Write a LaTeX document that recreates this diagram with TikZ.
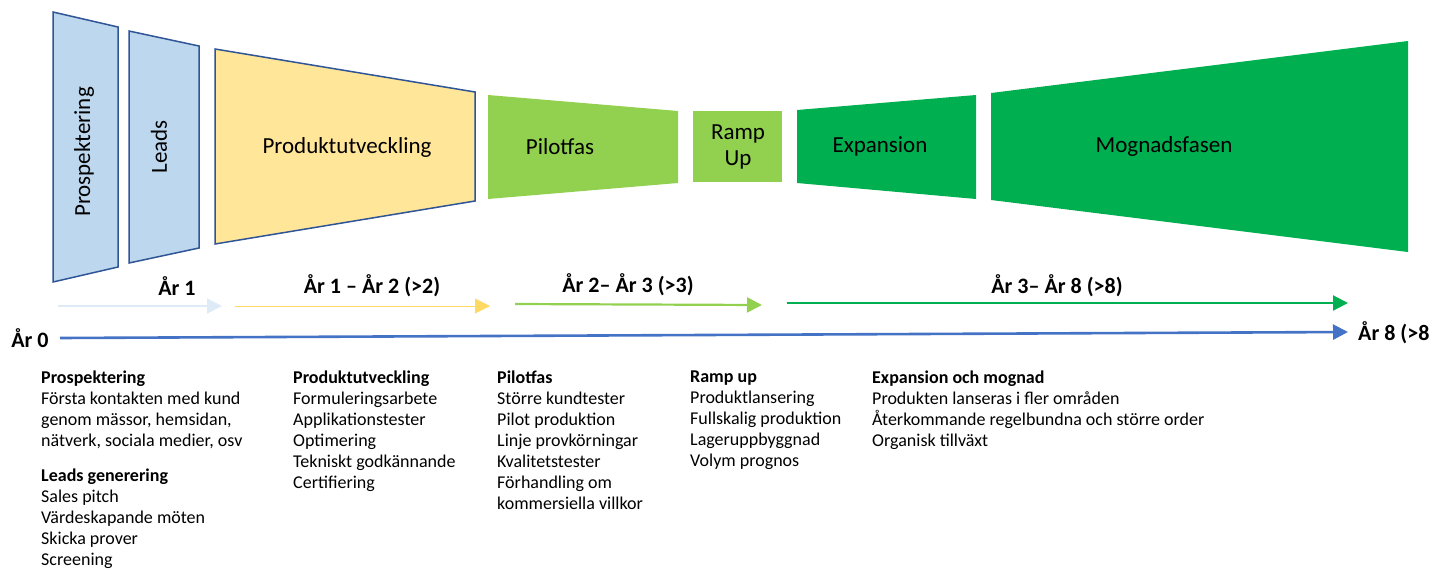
\documentclass[tikz,border=0pt]{standalone}
\usepackage{fontspec}
\setmainfont{Carlito}
\usepackage{tikz}
\usetikzlibrary{arrows.meta}
\usepackage{xcolor}
\definecolor{fasblue}{HTML}{BDD7EE}
\definecolor{fasyellow}{HTML}{FFE699}
\definecolor{faslime}{HTML}{92D050}
\definecolor{fasgreen}{HTML}{00B050}
\definecolor{fasedge}{HTML}{2F5597}
\definecolor{axisblue}{HTML}{4472C4}
\definecolor{spanblue}{HTML}{DEEBF7}
\definecolor{spanyellow}{HTML}{FFD966}

\begin{document}
\begin{tikzpicture}[x=1pt, y=-1pt,
		phase/.style={draw=fasedge, line width=1.5pt},
		phaselabel/.style={font=\fontsize{23}{26}\selectfont},
		yearlabel/.style={font=\fontsize{22}{26}\selectfont\bfseries},
		notes/.style={anchor=north west, inner sep=0pt, align=left, font=\fontsize{18}{21}\selectfont},
		span/.style={-{Triangle[length=15pt,width=15pt]}}]
		\useasboundingbox (0,0) rectangle (1435,568);
		\draw[phase, fill=fasblue] (53,12) -- (118,27) -- (118,267) -- (53,282) -- cycle;
		\draw[phase, fill=fasblue] (129,31) -- (199,46) -- (199,248) -- (129,263) -- cycle;
		\draw[phase, fill=fasyellow] (215,49) -- (475,92) -- (475,201) -- (215,244) -- cycle;
		\fill[faslime] (488,95) -- (678,111) -- (678,183) -- (488,199) -- cycle;
		\fill[faslime] (693,111) rectangle (782,182);
		\fill[fasgreen] (797,110) -- (976,95) -- (976,199) -- (797,183) -- cycle;
		\fill[fasgreen] (991,93) -- (1408,41) -- (1408,252) -- (991,200) -- cycle;
		\node[phaselabel, rotate=90] (prosp) at (84,152) {Prospektering};
		\node[phaselabel, rotate=90] (leads) at (159,147) {Leads};
		\node[phaselabel] (produkt) at (347,147) {Produktutveckling};
		\node[phaselabel] (pilot) at (560,147) {Pilotfas};
		\node[phaselabel, align=center] (ramp) at (738,147) {Ramp\\Up};
		\node[phaselabel] (expansion) at (880,146) {Expansion};
		\node[phaselabel] (mognad) at (1164,146) {Mognadsfasen};
		\node[yearlabel] (ar1) at (177,286) {År 1};
		\node[yearlabel] (ar12) at (372,286) {År 1 – År 2 (>2)};
		\node[yearlabel] (ar23) at (628,285) {År 2– År 3 (>3)};
		\node[yearlabel] (ar38) at (1057,286) {År 3– År 8 (>8)};
		\node[yearlabel] (ar0) at (30,338) {År 0};
		\node[yearlabel, anchor=west, inner sep=0pt] (ar8) at (1358,333) {År 8 (>8};
		\coordinate (s1a) at (58,306);
		\coordinate (s1b) at (222,306);
		\coordinate (s2a) at (235,306);
		\coordinate (s2b) at (490,306);
		\coordinate (s3a) at (515,304);
		\coordinate (s3b) at (762,305);
		\coordinate (s4a) at (787,303);
		\coordinate (s4b) at (1348,303);
		\coordinate (axa) at (60,338);
		\coordinate (axb) at (1348,332);
		\draw[span, spanblue, line width=1.5pt] (s1a) -- (s1b);
		\draw[span, spanyellow, line width=1pt] (s2a) -- (s2b);
		\draw[span, faslime, line width=2.2pt] (s3a) -- (s3b);
		\draw[span, fasgreen, line width=2.2pt] (s4a) -- (s4b);
		\draw[span, axisblue, line width=2.6pt] (axa) -- (axb);
		\node[notes] (n1) at (41,371) {\textbf{Prospektering}\\Första kontakten med kund\\genom mässor, hemsidan,\\nätverk, sociala medier, osv\\[14pt]\textbf{Leads generering}\\Sales pitch\\Värdeskapande möten\\Skicka prover\\Screening};
		\node[notes] (n2) at (293,371) {\textbf{Produktutveckling}\\Formuleringsarbete\\Applikationstester\\Optimering\\Tekniskt godkännande\\Certifiering};
		\node[notes] (n3) at (497,371) {\textbf{Pilotfas}\\Större kundtester\\Pilot produktion\\Linje provkörningar\\Kvalitetstester\\Förhandling om\\kommersiella villkor};
		\node[notes] (n4) at (690,371) {\textbf{Ramp up}\\Produktlansering\\Fullskalig produktion\\Lageruppbyggnad\\Volym prognos};
		\node[notes] (n5) at (872,371) {\textbf{Expansion och mognad}\\Produkten lanseras i fler områden\\Återkommande regelbundna och större order\\Organisk tillväxt};
	\end{tikzpicture}
\end{document}
